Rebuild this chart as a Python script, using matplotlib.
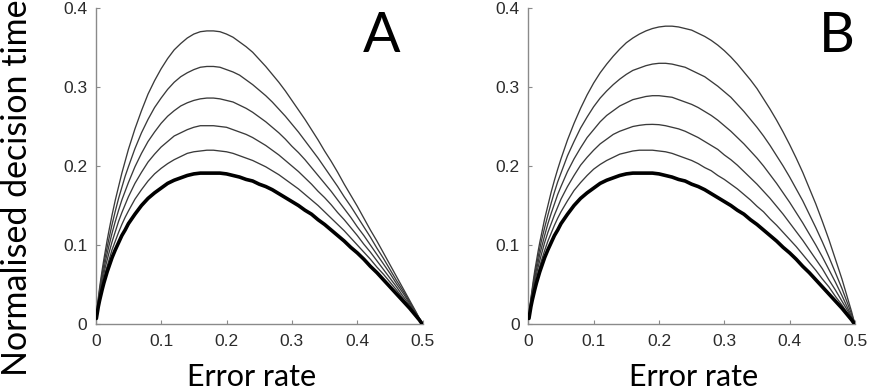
import matplotlib
matplotlib.use("Agg")
import matplotlib.pyplot as plt
from matplotlib.ticker import FuncFormatter

# Error-rate sample positions (x values)
error_rate = [0.001, 0.002, 0.004, 0.006, 0.008, 0.01, 0.0125, 0.015, 0.0175, 0.02,
              0.025, 0.03, 0.035, 0.04, 0.045, 0.05,
              0.06, 0.07, 0.08, 0.09, 0.10, 0.11, 0.12, 0.13, 0.14, 0.15,
              0.16, 0.17, 0.18, 0.19, 0.20, 0.21, 0.22, 0.23, 0.24, 0.25,
              0.26, 0.27, 0.28, 0.29, 0.30, 0.31, 0.32, 0.33, 0.34, 0.35,
              0.36, 0.37, 0.38, 0.39, 0.40, 0.41, 0.42, 0.43, 0.44, 0.45,
              0.46, 0.47, 0.48, 0.49, 0.495, 0.4975, 0.5]

# Panel A curves (thick bottom curve first, then upward)
a_curve0 = [0.007, 0.012, 0.022, 0.030, 0.037, 0.044, 0.052, 0.059, 0.066, 0.072, 0.084, 0.094, 0.103, 0.112, 0.119, 0.127,
            0.139, 0.150, 0.159, 0.166, 0.172, 0.178, 0.182, 0.185, 0.188, 0.190,
            0.191, 0.191, 0.191, 0.191, 0.190, 0.188, 0.186, 0.183, 0.181, 0.177,
            0.174, 0.170, 0.165, 0.160, 0.155, 0.150, 0.144, 0.139, 0.132, 0.126,
            0.119, 0.112, 0.105, 0.097, 0.090, 0.082, 0.073, 0.065, 0.056, 0.047,
            0.038, 0.029, 0.020, 0.010, 0.005, 0.002, 0.0]
a_curve1 = [0.008, 0.014, 0.024, 0.033, 0.041, 0.049, 0.058, 0.066, 0.073, 0.080, 0.094, 0.105, 0.116, 0.126, 0.135, 0.143,
            0.158, 0.170, 0.181, 0.190, 0.197, 0.203, 0.208, 0.212, 0.216, 0.218,
            0.219, 0.220, 0.220, 0.219, 0.218, 0.216, 0.213, 0.210, 0.207, 0.203,
            0.199, 0.194, 0.189, 0.183, 0.177, 0.171, 0.164, 0.157, 0.150, 0.142,
            0.134, 0.126, 0.118, 0.109, 0.100, 0.091, 0.082, 0.072, 0.063, 0.053,
            0.043, 0.032, 0.022, 0.011, 0.005, 0.003, 0.0]
a_curve2 = [0.008, 0.015, 0.026, 0.036, 0.045, 0.054, 0.063, 0.073, 0.081, 0.089, 0.104, 0.117, 0.130, 0.141, 0.151, 0.161,
            0.178, 0.192, 0.205, 0.215, 0.224, 0.231, 0.238, 0.242, 0.246, 0.249,
            0.251, 0.251, 0.251, 0.250, 0.249, 0.246, 0.243, 0.240, 0.236, 0.231,
            0.226, 0.220, 0.214, 0.207, 0.200, 0.193, 0.185, 0.177, 0.168, 0.160,
            0.151, 0.141, 0.132, 0.122, 0.112, 0.101, 0.091, 0.080, 0.069, 0.058,
            0.047, 0.035, 0.024, 0.012, 0.006, 0.003, 0.0]
a_curve3 = [0.009, 0.016, 0.028, 0.039, 0.049, 0.059, 0.069, 0.080, 0.089, 0.098, 0.115, 0.130, 0.144, 0.157, 0.168, 0.179,
            0.199, 0.216, 0.231, 0.243, 0.254, 0.263, 0.270, 0.276, 0.280, 0.283,
            0.285, 0.286, 0.286, 0.285, 0.283, 0.281, 0.277, 0.273, 0.268, 0.262,
            0.256, 0.249, 0.242, 0.234, 0.225, 0.217, 0.208, 0.198, 0.188, 0.178,
            0.168, 0.157, 0.146, 0.135, 0.123, 0.112, 0.100, 0.088, 0.076, 0.064,
            0.051, 0.039, 0.026, 0.013, 0.006, 0.003, 0.0]
a_curve4 = [0.010, 0.017, 0.031, 0.043, 0.054, 0.064, 0.076, 0.087, 0.097, 0.107, 0.126, 0.143, 0.159, 0.173, 0.187, 0.199,
            0.222, 0.242, 0.259, 0.274, 0.286, 0.297, 0.306, 0.313, 0.318, 0.322,
            0.325, 0.326, 0.326, 0.325, 0.322, 0.319, 0.315, 0.309, 0.303, 0.296,
            0.289, 0.281, 0.272, 0.263, 0.253, 0.243, 0.232, 0.221, 0.210, 0.198,
            0.186, 0.174, 0.161, 0.149, 0.136, 0.123, 0.110, 0.096, 0.083, 0.069,
            0.055, 0.042, 0.028, 0.014, 0.007, 0.003, 0.0]
a_curve5 = [0.010, 0.019, 0.033, 0.046, 0.058, 0.069, 0.082, 0.094, 0.106, 0.117, 0.138, 0.157, 0.174, 0.191, 0.206, 0.221,
            0.247, 0.270, 0.291, 0.308, 0.323, 0.336, 0.347, 0.355, 0.362, 0.367,
            0.370, 0.371, 0.371, 0.370, 0.367, 0.363, 0.357, 0.351, 0.344, 0.335,
            0.326, 0.316, 0.306, 0.295, 0.283, 0.271, 0.259, 0.246, 0.233, 0.219,
            0.206, 0.192, 0.177, 0.163, 0.149, 0.134, 0.119, 0.105, 0.090, 0.075,
            0.060, 0.045, 0.030, 0.015, 0.007, 0.004, 0.0]

# Panel B curves (thick bottom curve first, then upward)
b_curve0 = [0.007, 0.012, 0.022, 0.030, 0.037, 0.044, 0.052, 0.059, 0.066, 0.072, 0.084, 0.094, 0.103, 0.112, 0.119, 0.127,
            0.139, 0.150, 0.159, 0.166, 0.172, 0.178, 0.182, 0.185, 0.188, 0.190,
            0.191, 0.191, 0.191, 0.191, 0.190, 0.188, 0.186, 0.183, 0.181, 0.177,
            0.174, 0.170, 0.165, 0.160, 0.155, 0.150, 0.144, 0.139, 0.132, 0.126,
            0.119, 0.112, 0.105, 0.097, 0.090, 0.082, 0.073, 0.065, 0.056, 0.047,
            0.038, 0.029, 0.020, 0.010, 0.005, 0.002, 0.0]
b_curve1 = [0.008, 0.014, 0.024, 0.033, 0.041, 0.049, 0.057, 0.065, 0.073, 0.080, 0.093, 0.105, 0.115, 0.125, 0.134, 0.142,
            0.156, 0.169, 0.179, 0.188, 0.196, 0.202, 0.207, 0.211, 0.215, 0.217,
            0.219, 0.220, 0.220, 0.220, 0.219, 0.218, 0.216, 0.213, 0.210, 0.207,
            0.203, 0.198, 0.194, 0.188, 0.183, 0.177, 0.171, 0.164, 0.157, 0.149,
            0.142, 0.133, 0.125, 0.116, 0.107, 0.098, 0.088, 0.078, 0.068, 0.057,
            0.047, 0.035, 0.024, 0.012, 0.006, 0.003, 0.0]
b_curve2 = [0.008, 0.015, 0.026, 0.036, 0.045, 0.053, 0.063, 0.072, 0.080, 0.088, 0.103, 0.116, 0.127, 0.138, 0.148, 0.158,
            0.174, 0.188, 0.201, 0.211, 0.220, 0.228, 0.234, 0.240, 0.244, 0.247,
            0.250, 0.2515, 0.2525, 0.2527, 0.2523, 0.251, 0.249, 0.247, 0.244, 0.240,
            0.236, 0.231, 0.226, 0.221, 0.214, 0.208, 0.201, 0.193, 0.185, 0.177,
            0.168, 0.159, 0.149, 0.139, 0.128, 0.117, 0.106, 0.094, 0.082, 0.070,
            0.056, 0.043, 0.029, 0.015, 0.007, 0.004, 0.0]
b_curve3 = [0.009, 0.016, 0.028, 0.039, 0.049, 0.058, 0.069, 0.078, 0.088, 0.096, 0.112, 0.127, 0.140, 0.152, 0.164, 0.174,
            0.193, 0.209, 0.223, 0.236, 0.246, 0.256, 0.264, 0.270, 0.276, 0.280,
            0.284, 0.286, 0.288, 0.289, 0.289, 0.288, 0.287, 0.284, 0.281, 0.278,
            0.274, 0.269, 0.264, 0.258, 0.251, 0.244, 0.236, 0.228, 0.219, 0.210,
            0.200, 0.189, 0.178, 0.166, 0.154, 0.141, 0.128, 0.114, 0.100, 0.085,
            0.069, 0.053, 0.036, 0.018, 0.009, 0.005, 0.0]
b_curve4 = [0.010, 0.017, 0.031, 0.042, 0.053, 0.063, 0.074, 0.085, 0.095, 0.105, 0.122, 0.138, 0.153, 0.167, 0.180, 0.191,
            0.213, 0.231, 0.248, 0.262, 0.275, 0.286, 0.295, 0.303, 0.310, 0.316,
            0.321, 0.324, 0.327, 0.329, 0.330, 0.330, 0.329, 0.327, 0.325, 0.321,
            0.317, 0.313, 0.307, 0.301, 0.294, 0.287, 0.278, 0.269, 0.259, 0.249,
            0.238, 0.226, 0.213, 0.200, 0.186, 0.171, 0.156, 0.139, 0.122, 0.104,
            0.085, 0.065, 0.045, 0.023, 0.012, 0.006, 0.0]
b_curve5 = [0.010, 0.019, 0.033, 0.045, 0.057, 0.068, 0.080, 0.092, 0.103, 0.113, 0.133, 0.150, 0.167, 0.182, 0.196, 0.209,
            0.233, 0.254, 0.273, 0.290, 0.305, 0.318, 0.329, 0.339, 0.348, 0.356,
            0.362, 0.367, 0.371, 0.374, 0.376, 0.377, 0.377, 0.376, 0.374, 0.372,
            0.368, 0.364, 0.359, 0.353, 0.346, 0.338, 0.329, 0.319, 0.309, 0.298,
            0.285, 0.272, 0.258, 0.243, 0.227, 0.210, 0.192, 0.172, 0.152, 0.130,
            0.107, 0.082, 0.057, 0.029, 0.015, 0.007, 0.0]

x_ticks = [0, 0.1, 0.2, 0.3, 0.4, 0.5]
y_ticks = [0, 0.1, 0.2, 0.3, 0.4]
panel_letters = ["A", "B"]
x_label = "Error rate"
y_label = "Normalised decision time"

panels = [
    [a_curve0, a_curve1, a_curve2, a_curve3, a_curve4, a_curve5],
    [b_curve0, b_curve1, b_curve2, b_curve3, b_curve4, b_curve5],
]

W, H = 872, 390
fig = plt.figure(figsize=(W / 100, H / 100), dpi=100)

axes_px = [(95.7, 327.0), (528.3, 326.7)]
y_top, y_bot = 8.0, 324.0
letter_x = [0.4375, 0.472]
xlabel_x = [0.2385, 0.2525]

spine_col = "#8a8a8a"
tick_txt_col = "#2b2b2b"

fmt = FuncFormatter(lambda v, p: "0" if abs(v) < 1e-9 else ("%g" % v))

for i, (left_px, w_px) in enumerate(axes_px):
    ax = fig.add_axes([left_px / W, (H - y_bot) / H, w_px / W, (y_bot - y_top) / H])
    curves = panels[i]
    for j, c in enumerate(curves):
        if j == 0:
            ax.plot(error_rate, c, color="black", lw=2.6, solid_capstyle="round",
                    solid_joinstyle="round", zorder=3)
        else:
            ax.plot(error_rate, c, color="#3a3a3a", lw=0.95, zorder=2)
    ax.set_xlim(0, 0.5)
    ax.set_ylim(0, 0.4)
    ax.set_xticks(x_ticks)
    ax.set_yticks(y_ticks)
    ax.xaxis.set_major_formatter(fmt)
    ax.yaxis.set_major_formatter(fmt)
    for s in ["top", "right"]:
        ax.spines[s].set_visible(False)
    for s in ["left", "bottom"]:
        ax.spines[s].set_color(spine_col)
        ax.spines[s].set_linewidth(1.0)
    ax.tick_params(direction="in", length=3, width=0.8, color=spine_col,
                   labelsize=12.5, labelcolor=tick_txt_col)
    ax.tick_params(axis="x", pad=7)
    ax.tick_params(axis="y", pad=6)
    for lab in ax.get_xticklabels() + ax.get_yticklabels():
        lab.set_family("Liberation Sans")
    ax.text(letter_x[i], 0.344, panel_letters[i], fontsize=40, family="Lato",
            ha="center", va="baseline", color="black")
    ax.text(xlabel_x[i], -0.0785, x_label, fontsize=22, family="Lato",
            ha="center", va="baseline", color="black", clip_on=False)

fig.text(17 / W, (H - 188) / H, y_label, rotation=90, fontsize=24.5, family="Lato",
         ha="center", va="center", color="black")

fig.savefig("out.png", dpi=100)
